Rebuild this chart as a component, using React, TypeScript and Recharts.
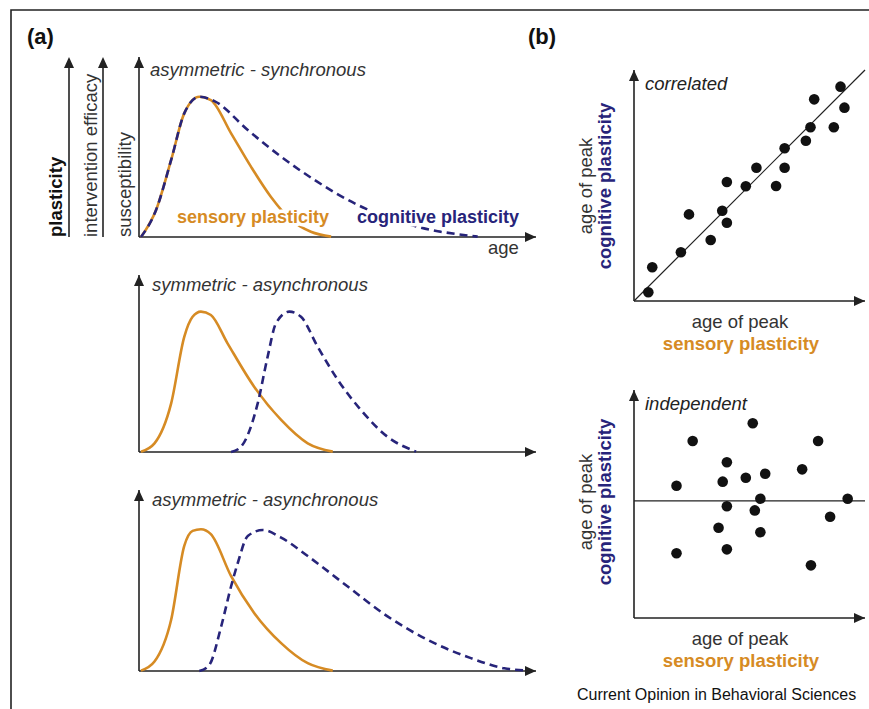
import {
  LineChart,
  Line,
  XAxis,
  YAxis,
  ReferenceLine,
  ReferenceDot,
  ScatterChart,
  Scatter,
} from "recharts";

const ORANGE = "#D68B24";
const NAVY = "#27247A";
const INK = "#222";
const FONT = "'Liberation Sans', Arial, Helvetica, sans-serif";

// panel (a): age runs 0-100 along the axis, plasticity 0-100 up the axis
const syncSensory = [
  { age: 0.5, v: 0 },
  { age: 4.3, v: 15 },
  { age: 8.1, v: 42.8 },
  { age: 11.4, v: 68.7 },
  { age: 15.2, v: 77.9 },
  { age: 18.1, v: 76.1 },
  { age: 23.2, v: 57.6 },
  { age: 28.2, v: 39.1 },
  { age: 33.2, v: 22.4 },
  { age: 38.3, v: 9.4 },
  { age: 43.3, v: 2.9 },
  { age: 48.4, v: 0.2 },
];
const syncCognitive = [
  { age: 0.5, v: 0 },
  { age: 4.3, v: 15 },
  { age: 8.1, v: 42.8 },
  { age: 11.4, v: 68.7 },
  { age: 15.2, v: 77.9 },
  { age: 19.0, v: 75.5 },
  { age: 27.4, v: 59.4 },
  { age: 35.8, v: 44.6 },
  { age: 44.2, v: 31.7 },
  { age: 55.1, v: 17.8 },
  { age: 70.2, v: 5.7 },
  { age: 85.3, v: 0.2 },
];
const symSensory = [
  { age: 0.5, v: 0.2 },
  { age: 3.9, v: 4.9 },
  { age: 8.1, v: 27.5 },
  { age: 11.4, v: 65.1 },
  { age: 13.5, v: 76.4 },
  { age: 15.6, v: 79.3 },
  { age: 18.1, v: 77.4 },
  { age: 22.3, v: 61.4 },
  { age: 29.0, v: 36.9 },
  { age: 35.8, v: 18.1 },
  { age: 42.5, v: 4.9 },
  { age: 48.8, v: 0.2 },
];
const symCognitive = [
  { age: 23.2, v: 0 },
  { age: 25.7, v: 3.0 },
  { age: 29.9, v: 27.5 },
  { age: 32.4, v: 53.8 },
  { age: 34.5, v: 72.7 },
  { age: 37.9, v: 79.3 },
  { age: 40.8, v: 76.4 },
  { age: 45.0, v: 59.5 },
  { age: 50.1, v: 40.7 },
  { age: 55.9, v: 23.7 },
  { age: 62.6, v: 8.6 },
  { age: 69.8, v: 0.2 },
];
const asyncSensory = [
  { age: 0.5, v: 0.2 },
  { age: 3.9, v: 5.2 },
  { age: 8.1, v: 28.3 },
  { age: 11.4, v: 69.1 },
  { age: 13.5, v: 77.4 },
  { age: 15.6, v: 78.3 },
  { age: 18.1, v: 75.6 },
  { age: 23.2, v: 52.4 },
  { age: 29.0, v: 32.1 },
  { age: 35.8, v: 15.4 },
  { age: 42.5, v: 4.3 },
  { age: 48.8, v: 0.2 },
];
const asyncCognitive = [
  { age: 15.2, v: 0 },
  { age: 17.7, v: 3.3 },
  { age: 20.7, v: 24.6 },
  { age: 23.2, v: 46.8 },
  { age: 24.9, v: 59.8 },
  { age: 27.4, v: 74.6 },
  { age: 31.2, v: 77.9 },
  { age: 35.8, v: 73.7 },
  { age: 42.5, v: 63.5 },
  { age: 52.5, v: 46.8 },
  { age: 62.6, v: 30.2 },
  { age: 72.7, v: 17.2 },
  { age: 83.6, v: 7.1 },
  { age: 92.0, v: 1.5 },
  { age: 98.7, v: 0.2 },
];

// panel (b): age of peak, sensory (x) vs cognitive (y), 0-10
const correlatedPoints = [
  { x: 0.62, y: 0.38 },
  { x: 0.79, y: 1.46 },
  { x: 2.03, y: 2.11 },
  { x: 2.38, y: 3.75 },
  { x: 3.32, y: 2.64 },
  { x: 3.82, y: 3.91 },
  { x: 4.02, y: 3.39 },
  { x: 4.02, y: 5.15 },
  { x: 4.84, y: 4.97 },
  { x: 5.3, y: 5.77 },
  { x: 6.15, y: 4.98 },
  { x: 6.52, y: 6.61 },
  { x: 6.52, y: 5.77 },
  { x: 7.44, y: 6.94 },
  { x: 7.64, y: 7.52 },
  { x: 7.8, y: 8.73 },
  { x: 8.65, y: 7.52 },
  { x: 8.94, y: 9.28 },
  { x: 9.11, y: 8.37 },
];
const independentPoints = [
  { x: 5.14, y: 8.54 },
  { x: 2.54, y: 7.76 },
  { x: 7.97, y: 7.76 },
  { x: 4.02, y: 6.83 },
  { x: 7.28, y: 6.52 },
  { x: 5.68, y: 6.33 },
  { x: 4.84, y: 6.15 },
  { x: 3.84, y: 5.98 },
  { x: 1.84, y: 5.8 },
  { x: 5.47, y: 5.23 },
  { x: 9.25, y: 5.23 },
  { x: 4.02, y: 4.9 },
  { x: 5.23, y: 4.72 },
  { x: 8.49, y: 4.44 },
  { x: 3.66, y: 3.96 },
  { x: 5.47, y: 3.76 },
  { x: 1.84, y: 2.84 },
  { x: 4.02, y: 3.01 },
  { x: 7.66, y: 2.31 },
];
const independentMean = 5.14;

const ArrowRight = (p: any) => (
  <polygon
    points={`${p.cx},${p.cy} ${p.cx - 11},${p.cy - 5} ${p.cx - 11},${p.cy + 5}`}
    fill={INK}
  />
);
const ArrowUp = (p: any) => (
  <polygon
    points={`${p.cx},${p.cy} ${p.cx - 5},${p.cy + 11} ${p.cx + 5},${p.cy + 11}`}
    fill={INK}
  />
);
const Dot = (p: any) => <circle cx={p.cx} cy={p.cy} r={5.3} fill="#111" />;

function CurvePanel({
  top,
  height,
  sensory,
  cognitive,
}: {
  top: number;
  height: number;
  sensory: { age: number; v: number }[];
  cognitive: { age: number; v: number }[];
}) {
  return (
    <div style={{ position: "absolute", left: 129, top }}>
      <LineChart
        width={417}
        height={height}
        margin={{ top: 10, right: 10, bottom: 10, left: 10 }}
      >
        <XAxis dataKey="age" type="number" domain={[0, 100]} hide />
        <YAxis type="number" domain={[0, 100]} hide />
        <ReferenceLine x={0} stroke={INK} strokeWidth={1.6} />
        <ReferenceLine y={0} stroke={INK} strokeWidth={1.6} />
        <ReferenceDot x={100} y={0} ifOverflow="visible" shape={ArrowRight} />
        <ReferenceDot x={0} y={100} ifOverflow="visible" shape={ArrowUp} />
        <Line
          data={sensory}
          dataKey="v"
          type="monotone"
          stroke={ORANGE}
          strokeWidth={2.6}
          dot={false}
          isAnimationActive={false}
        />
        <Line
          data={cognitive}
          dataKey="v"
          type="monotone"
          stroke={NAVY}
          strokeWidth={2.6}
          strokeDasharray="8 5"
          dot={false}
          isAnimationActive={false}
        />
      </LineChart>
    </div>
  );
}

function ScatterPanel({
  top,
  height,
  points,
  correlated,
}: {
  top: number;
  height: number;
  points: { x: number; y: number }[];
  correlated: boolean;
}) {
  return (
    <div style={{ position: "absolute", left: 624, top }}>
      <ScatterChart
        width={245}
        height={height}
        margin={{ top: 10, right: 4, bottom: 10, left: 10 }}
      >
        <XAxis dataKey="x" type="number" domain={[0, 10]} hide />
        <YAxis dataKey="y" type="number" domain={[0, 10]} hide />
        <ReferenceLine x={0} stroke={INK} strokeWidth={1.6} />
        <ReferenceLine y={0} stroke={INK} strokeWidth={1.6} />
        {correlated ? (
          <ReferenceLine
            segment={[
              { x: 0, y: 0 },
              { x: 10, y: 10 },
            ]}
            stroke={INK}
            strokeWidth={1.2}
          />
        ) : (
          <ReferenceLine y={independentMean} stroke={INK} strokeWidth={1.2} />
        )}
        <ReferenceDot x={10} y={0} ifOverflow="visible" shape={ArrowRight} />
        <ReferenceDot x={0} y={10} ifOverflow="visible" shape={ArrowUp} />
        <Scatter data={points} shape={Dot} isAnimationActive={false} />
      </ScatterChart>
    </div>
  );
}

const halo = {
  stroke: "#fff",
  strokeWidth: 7,
  paintOrder: "stroke" as const,
  strokeLinejoin: "round" as const,
};

export default function App() {
  return (
    <div
      style={{
        position: "absolute",
        left: 0,
        top: 0,
        width: 869,
        height: 709,
        background: "#fff",
        overflow: "hidden",
        fontFamily: FONT,
      }}
    >
      <CurvePanel top={47} height={200} sensory={syncSensory} cognitive={syncCognitive} />
      <CurvePanel top={265} height={197} sensory={symSensory} cognitive={symCognitive} />
      <CurvePanel top={480} height={201} sensory={asyncSensory} cognitive={asyncCognitive} />
      <ScatterPanel top={60} height={251} points={correlatedPoints} correlated />
      <ScatterPanel top={380} height={248} points={independentPoints} correlated={false} />

      <svg
        width={869}
        height={709}
        style={{ position: "absolute", left: 0, top: 0, pointerEvents: "none" }}
        fontFamily={FONT}
      >
        <path d="M11,709 L11,10 L869,10" fill="none" stroke={INK} strokeWidth={1.6} />

        <text x={27} y={44} fontSize={22} fontWeight="bold" fill="#111">(a)</text>
        <text x={528} y={44} fontSize={22} fontWeight="bold" fill="#111">(b)</text>

        {/* extra axes of panel (a) */}
        <line x1={69} y1={237} x2={69} y2={62} stroke={INK} strokeWidth={1.6} />
        <polygon points="69,57 64,68 74,68" fill={INK} />
        <line x1={103} y1={237} x2={103} y2={62} stroke={INK} strokeWidth={1.6} />
        <polygon points="103,57 98,68 108,68" fill={INK} />
        <text x={62} y={237} transform="rotate(-90 62 237)" fontSize={18.5} fontWeight="bold" fill="#111">
          plasticity
        </text>
        <text x={97} y={237} transform="rotate(-90 97 237)" fontSize={18.5} fill="#333">
          intervention efficacy
        </text>
        <text x={131} y={237} transform="rotate(-90 131 237)" fontSize={18.5} fill="#333">
          susceptibility
        </text>

        <text x={150} y={76} fontSize={18.5} fontStyle="italic" fill="#333">asymmetric - synchronous</text>
        <text x={152} y={291} fontSize={18.5} fontStyle="italic" fill="#333">symmetric - asynchronous</text>
        <text x={152} y={506} fontSize={18.5} fontStyle="italic" fill="#333">asymmetric - asynchronous</text>

        <text x={177} y={223} fontSize={18} fontWeight="bold" fill={ORANGE} style={halo}>sensory plasticity</text>
        <text x={357} y={223} fontSize={18} fontWeight="bold" fill={NAVY} style={halo}>cognitive plasticity</text>
        <text x={488} y={254} fontSize={18.5} fill="#333">age</text>

        {/* panel (b) labels */}
        <text x={645} y={90} fontSize={18.5} fontStyle="italic" fill="#222">correlated</text>
        <text x={645} y={410} fontSize={18.5} fontStyle="italic" fill="#222">independent</text>

        <text x={740} y={328} fontSize={18.5} textAnchor="middle" fill="#333">age of peak</text>
        <text x={741} y={350} fontSize={18.5} textAnchor="middle" fontWeight="bold" fill={ORANGE}>sensory plasticity</text>
        <text x={740} y={645} fontSize={18.5} textAnchor="middle" fill="#333">age of peak</text>
        <text x={741} y={667} fontSize={18.5} textAnchor="middle" fontWeight="bold" fill={ORANGE}>sensory plasticity</text>

        <text x={592} y={186} transform="rotate(-90 592 186)" fontSize={18.5} textAnchor="middle" fill="#333">age of peak</text>
        <text x={611} y={186} transform="rotate(-90 611 186)" fontSize={18.5} textAnchor="middle" fontWeight="bold" fill={NAVY}>cognitive plasticity</text>
        <text x={592} y={502} transform="rotate(-90 592 502)" fontSize={18.5} textAnchor="middle" fill="#333">age of peak</text>
        <text x={611} y={502} transform="rotate(-90 611 502)" fontSize={18.5} textAnchor="middle" fontWeight="bold" fill={NAVY}>cognitive plasticity</text>

        <text x={577} y={700} fontSize={16} fill="#111">Current Opinion in Behavioral Sciences</text>
      </svg>
    </div>
  );
}
